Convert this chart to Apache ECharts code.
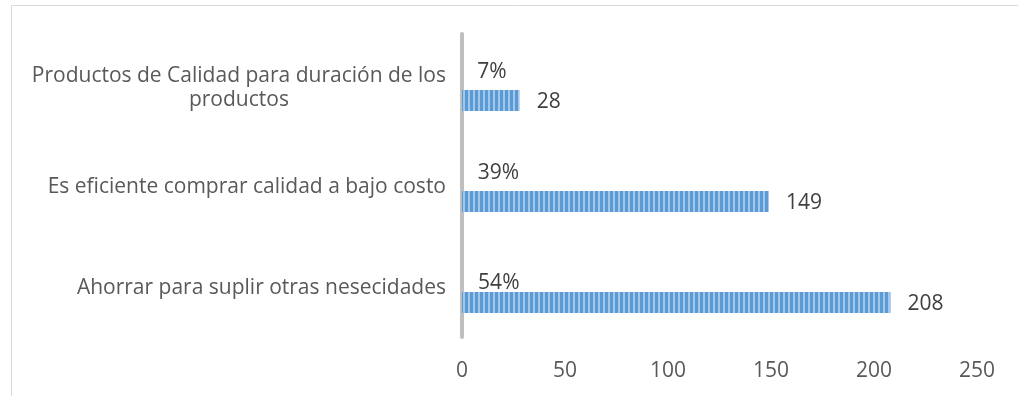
<!DOCTYPE html>
<html>
<head>
<meta charset="utf-8">
<script src="https://cdn.jsdelivr.net/npm/echarts@6/dist/echarts.min.js"></script>
<style>
  html, body { margin: 0; padding: 0; background: #ffffff; }
  #chart { width: 1018px; height: 396px; }
</style>
</head>
<body>
<div id="chart"></div>
<script>
// Categories listed bottom to top, as the category axis draws them
const categories = [
  'Ahorrar para suplir otras nesecidades',
  'Es eficiente comprar calidad a bajo costo',
  'Productos de Calidad para duración de los\nproductos'
];
// Number of answers per reason
const counts = [208, 149, 28];
// Share of answers per reason
const shares = [0.54, 0.39, 0.07];
// Value axis
const axisMin = 0;
const axisMax = 250;
const axisStep = 50;

const FONT = '"Open Sans", sans-serif';
const FS = 21;

// Vertical striped fill for the bars
function stripePattern() {
  const c = document.createElement('canvas');
  c.width = 5; c.height = 4;
  const g = c.getContext('2d');
  g.fillStyle = '#a3c7eb';
  g.fillRect(0, 0, 5, 4);
  g.fillStyle = '#5b9bd5';
  g.fillRect(0, 0, 3, 4);
  return c;
}

const chart = echarts.init(document.getElementById('chart'), null, { renderer: 'canvas' });

const shareLabelOffsets = [[0, 12], [0, 3], [0, 3]];

// Category entries: wrapped names sit a little lower
const categoryData = categories.map(c => ({
  value: c,
  textStyle: { padding: c.indexOf('\n') >= 0 ? [8, 0, 0, 0] : [4, 0, 0, 0] }
}));

chart.setOption({
  animation: false,
  backgroundColor: '#ffffff',
  graphic: [{
    type: 'rect',
    silent: true,
    shape: { x: 11.5, y: 5.5, width: 1200, height: 600 },
    style: { fill: 'none', stroke: '#d9d9d9', lineWidth: 1 }
  }],
  grid: { left: 462, right: 41, top: 34, bottom: 59, containLabel: false },
  xAxis: {
    type: 'value',
    min: axisMin,
    max: axisMax,
    interval: axisStep,
    axisLine: { show: false },
    axisTick: { show: false },
    splitLine: { show: false },
    axisLabel: { color: '#595959', fontSize: FS, fontFamily: FONT, margin: 24 }
  },
  yAxis: {
    type: 'category',
    data: categoryData,
    axisLine: { show: true, lineStyle: { color: '#bfbfbf', width: 4 } },
    axisTick: { show: false },
    splitLine: { show: false },
    axisLabel: {
      margin: 16,
      color: '#595959',
      fontSize: FS,
      fontFamily: FONT,
      lineHeight: 24,
      formatter: v => v.split('\n').map(l => '{c|' + l + '}').join('\n'),
      rich: {
        c: { align: 'center', color: '#595959', fontSize: FS, fontFamily: FONT, lineHeight: 24 }
      }
    }
  },
  series: [
    {
      name: 'share',
      type: 'bar',
      barWidth: 21,
      barGap: '52%',
      data: shares.map((v, i) => ({ value: v, label: { offset: shareLabelOffsets[i] } })),
      itemStyle: { color: 'rgba(0,0,0,0)' },
      label: {
        show: true,
        position: 'right',
        distance: 15,
        color: '#404040',
        fontSize: FS,
        fontFamily: FONT,
        formatter: p => Math.round(p.value * 100) + '%'
      }
    },
    {
      name: 'count',
      type: 'bar',
      barWidth: 21,
      data: counts,
      itemStyle: { color: { image: stripePattern(), repeat: 'repeat' } },
      label: {
        show: true,
        position: 'right',
        distance: 17,
        offset: [0, 2],
        color: '#404040',
        fontSize: FS,
        fontFamily: FONT
      }
    }
  ]
});
</script>
</body>
</html>
